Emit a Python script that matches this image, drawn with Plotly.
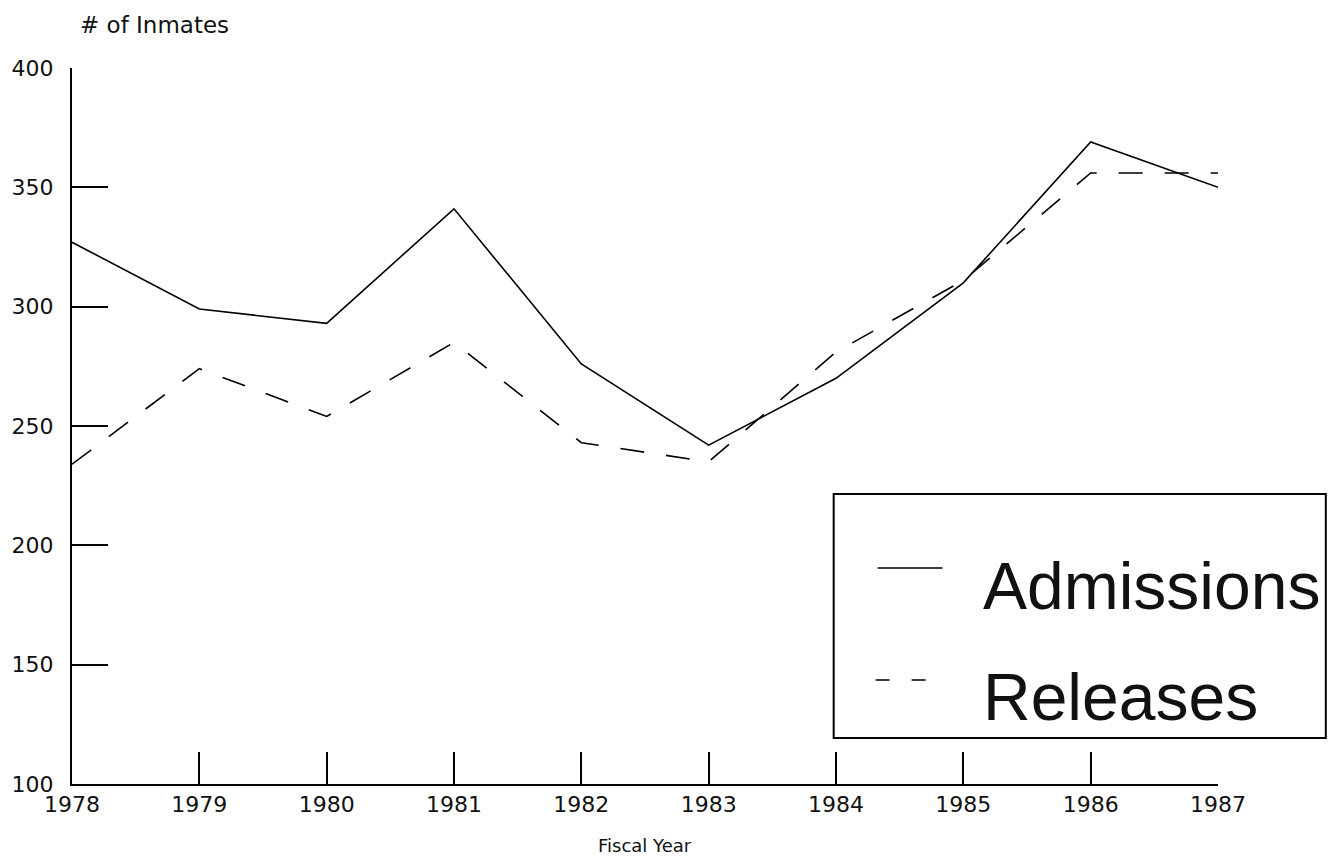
import plotly.graph_objects as go

# ---- data ----
years = [1978, 1979, 1980, 1981, 1982, 1983, 1984, 1985, 1986, 1987]
admissions = [327, 299, 293, 341, 276, 242, 270, 310, 369, 350]
releases = [234, 274, 254, 285, 243, 235, 281, 311, 356, 356]
series_names = ["Admissions", "Releases"]
y_ticks = [100, 150, 200, 250, 300, 350, 400]
x_title = "Fiscal Year"
y_title = "# of Inmates"

# ---- layout geometry (pixels) ----
W, H = 1341, 863
L, R, T, B = 70, 1218, 68, 784


def px(x):
    return (x - L) / (R - L)


def py(y):
    return (B - y) / (B - T)


FONT = "DejaVu Sans"

fig = go.Figure()
fig.add_trace(go.Scatter(x=years, y=admissions, mode="lines", name=series_names[0],
                         line=dict(color="black", width=1.6), showlegend=False))
fig.add_trace(go.Scatter(x=years, y=releases, mode="lines", name=series_names[1],
                         line=dict(color="black", width=1.6, dash="24px,22px"), showlegend=False))

fig.update_layout(
    width=W, height=H,
    margin=dict(l=L, r=W - R, t=T, b=H - B, pad=0),
    paper_bgcolor="white", plot_bgcolor="white",
    font=dict(family=FONT, color="black", size=20),
    xaxis=dict(range=[years[0], years[-1]], tickvals=years, ticktext=[str(y) for y in years],
               showgrid=False, zeroline=False, showline=True, linecolor="black", linewidth=2,
               ticks="inside", ticklen=32, tickwidth=2, tickcolor="black",
               tickfont=dict(family=FONT, size=22, color="#111")),
    yaxis=dict(range=[y_ticks[0], y_ticks[-1]], tickvals=y_ticks,
               showgrid=False, zeroline=False, showline=True, linecolor="black", linewidth=2,
               ticks="inside", ticklen=36, tickwidth=2, tickcolor="black",
               ticklabelstandoff=12,
               tickfont=dict(family=FONT, size=22, color="#111")),
)

# axis titles
fig.add_annotation(text=y_title, xref="paper", yref="paper", x=px(76), y=py(25),
                   xanchor="left", yanchor="middle", showarrow=False,
                   font=dict(family=FONT, size=23, color="#111"))
fig.add_annotation(text=x_title, xref="paper", yref="paper", x=px(644), y=py(845),
                   xanchor="center", yanchor="middle", showarrow=False,
                   font=dict(family=FONT, size=18, color="#111"))

# legend box (drawn manually)
fig.add_shape(type="rect", xref="paper", yref="paper", x0=px(833), x1=px(1326),
              y0=py(738), y1=py(494), line=dict(color="black", width=2), fillcolor="rgba(0,0,0,0)")
fig.add_shape(type="line", xref="paper", yref="paper", x0=px(877), x1=px(942),
              y0=py(568), y1=py(568), line=dict(color="black", width=1.6))
fig.add_shape(type="line", xref="paper", yref="paper", x0=px(875), x1=px(940),
              y0=py(680), y1=py(680), line=dict(color="black", width=1.6, dash="14px,22px"))
for name, yc in zip(series_names, [586, 697]):
    fig.add_annotation(text=name, xref="paper", yref="paper", x=px(981), y=py(yc),
                       xanchor="left", yanchor="middle", showarrow=False,
                       font=dict(family="Liberation Sans", size=66, color="#111"))

fig.write_html("out.html", config={"displayModeBar": False},
               post_script="document.body.style.margin='0';document.body.style.overflow='hidden';")
